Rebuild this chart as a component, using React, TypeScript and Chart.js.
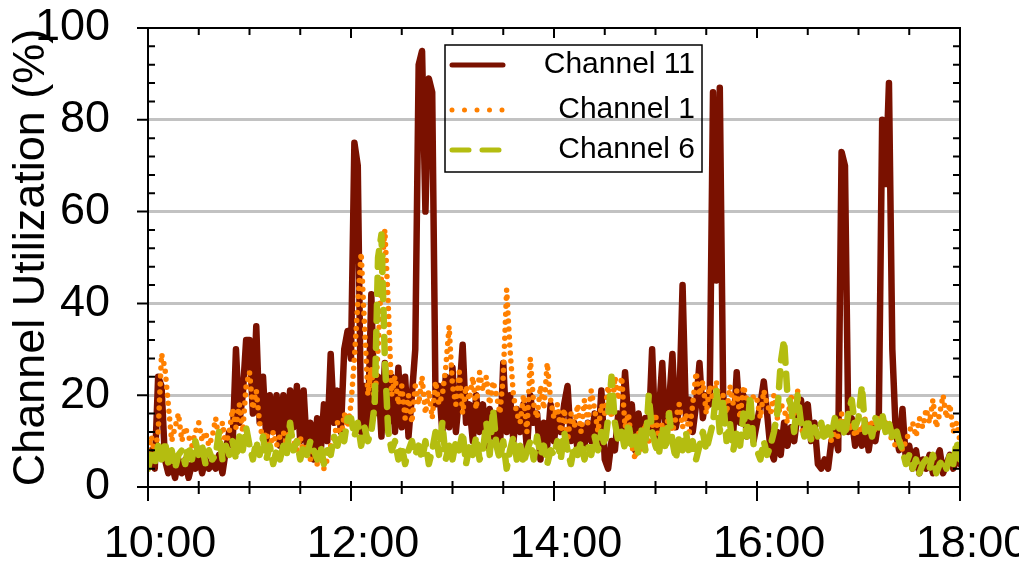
import React, { useEffect, useRef } from "react";
import { Chart, registerables } from "chart.js";

Chart.register(...registerables);

// Time axis: minutes after 10:00, sampled every 2 minutes (10:00 – 18:00)
const START_HOUR = 10;
const STEP_MIN = 2;

const CHANNEL_11 = [
  5, 8, 4, 24, 22, 6, 3, 5, 2, 6,
  3, 6, 2, 5, 4, 7, 3, 6, 4, 5,
  4, 7, 3, 8, 12, 9, 30, 14, 20, 32,
  32, 16, 35, 14, 24, 10, 20, 12, 20, 9,
  20, 11, 21, 13, 22, 10, 21, 8, 14, 6,
  15, 7, 18, 10, 29, 14, 21, 12, 30, 34,
  28, 75, 70, 12, 22, 13, 42, 16, 24, 11,
  27, 14, 24, 12, 26, 13, 24, 11, 20, 30,
  92, 95, 60, 89, 86, 18, 22, 12, 24, 13,
  26, 12, 20, 31, 14, 18, 10, 20, 12, 18,
  9, 17, 11, 16, 8, 27, 12, 20, 10, 17,
  12, 18, 8, 20, 14, 16, 6, 14, 9, 18,
  10, 16, 12, 18, 22, 10, 14, 8, 13, 9,
  14, 10, 16, 9, 21, 6, 4, 10, 8, 16,
  12, 25, 14, 18, 8, 16, 10, 15, 12, 30,
  10, 16, 27, 11, 18, 29, 13, 17, 44, 15,
  19, 12, 18, 27, 15, 20, 18, 86, 45, 87,
  20, 14, 18, 12, 25, 14, 20, 11, 17, 10,
  14, 18, 23, 16, 8, 6, 12, 7, 14, 9,
  13, 10, 16, 19, 12, 18, 10, 14, 5, 4,
  6, 4, 10, 12, 8, 73, 70, 12, 15, 9,
  12, 9, 14, 8, 13, 10, 15, 80, 66, 88,
  30, 12, 8, 17, 6, 9, 4, 8, 3, 6,
  4, 7, 3, 6, 8, 3, 5, 7, 4, 6,
  5,
];

const CHANNEL_1 = [
  8, 11, 7, 12, 29, 26, 18, 10, 13, 16,
  10, 13, 11, 9, 12, 14, 10, 12, 9, 11,
  15, 10, 14, 9, 12, 17, 13, 18, 12, 22,
  25, 17, 21, 14, 10, 12, 8, 12, 9, 11,
  12, 9, 13, 10, 8, 11, 7, 9, 6, 8,
  5, 7, 4, 6, 9, 11, 14, 10, 16, 13,
  18, 28, 40, 51, 35, 20, 26, 18, 30, 46,
  56, 40, 20, 24, 18, 22, 15, 20, 14, 22,
  18, 24, 16, 21, 15, 23, 18, 20, 26, 35,
  22, 18, 25, 16, 22, 19, 24, 17, 25, 21,
  24, 18, 23, 20, 16, 24, 43, 30, 20, 16,
  14, 20, 12, 28, 18, 15, 22, 17, 27, 19,
  15, 18, 12, 17, 10, 16, 13, 18, 12, 19,
  14, 21, 17, 12, 18, 16, 22, 15, 24, 19,
  24, 13, 16, 9, 6, 12, 8, 14, 10, 13,
  16, 10, 14, 11, 17, 12, 15, 18, 13, 16,
  12, 18, 25, 20, 23, 16, 22, 19, 23, 17,
  20, 16, 22, 18, 21, 15, 22, 19, 17, 20,
  19, 15, 21, 18, 16, 20, 15, 18, 17, 14,
  20, 16, 21, 13, 11, 12, 10, 13, 11, 12,
  11, 13, 10, 12, 11, 16, 13, 12, 14, 11,
  13, 12, 15, 13, 14, 12, 15, 13, 14, 12,
  10, 9, 11, 8, 10, 12, 14, 11, 15, 13,
  17, 14, 19, 13, 16, 20, 15, 18, 12, 14,
  10,
];

const CHANNEL_6 = [
  4, 7, 5, 9, 6, 10, 5, 8, 4, 7,
  8, 5, 9, 6, 10, 7, 9, 5, 8, 6,
  7, 12, 6, 9, 7, 10, 6, 11, 8, 13,
  9, 6, 10, 7, 11, 6, 9, 5, 8, 6,
  9, 7, 14, 8, 10, 6, 9, 7, 10, 8,
  6, 9, 5, 8, 7, 11, 9, 12, 10, 15,
  15, 11, 14, 9, 13, 10, 12, 18, 50, 55,
  28, 12, 8, 10, 6, 9, 5, 8, 10, 7,
  9, 6, 10, 5, 8, 12, 7, 14, 6, 9,
  6, 10, 8, 12, 5, 9, 7, 11, 6, 8,
  14, 7, 17, 9, 6, 10, 4, 8, 11, 6,
  9, 5, 8, 10, 6, 11, 7, 9, 5, 8,
  7, 10, 6, 12, 8, 5, 9, 7, 10, 6,
  9, 7, 11, 8, 12, 9, 15, 24, 14, 10,
  12, 8, 14, 9, 11, 7, 13, 8, 20, 12,
  9, 7, 13, 8, 16, 10, 6, 11, 8, 12,
  7, 10, 6, 9, 12, 8, 11, 14, 21, 12,
  19, 10, 14, 8, 12, 9, 16, 11, 20, 9,
  8, 6, 10, 7, 9, 12, 16, 27, 32, 20,
  18, 12, 20, 14, 11, 15, 10, 13, 11, 14,
  10, 13, 11, 15, 12, 14, 11, 16, 19, 13,
  15, 22, 12, 14, 11, 15, 13, 16, 12, 14,
  11, 13, 10, 8, 5, 7, 4, 6, 3, 5,
  6, 4, 7, 3, 5, 6, 4, 7, 5, 10,
  6,
];

const SERIES_LABELS = ["Channel 11", "Channel 1", "Channel 6"];
const Y_TICKS_STEP = 20;
const X_LABEL_STEP_MIN = 120;

const FONT = '"Liberation Sans", Arial, Helvetica, sans-serif';

const toPoints = (vals: number[]) =>
  vals.map((v, i) => ({ x: i * STEP_MIN, y: v }));

const LEGEND_STYLES = [
  { width: 5, dash: [] as number[], cap: "round" },
  { width: 5, dash: [0, 12.5], cap: "round" },
  { width: 5, dash: [17, 13], cap: "round" },
];

const frameAndLegendPlugin = {
  id: "frameAndLegend",
  afterDraw(chart: any) {
    const { ctx, chartArea, scales } = chart;
    const { left, right, top, bottom } = chartArea;
    const xs = scales.x;
    const ys = scales.y;
    ctx.save();
    ctx.strokeStyle = "#000";
    ctx.lineWidth = 2;
    ctx.lineCap = "butt";
    ctx.setLineDash([]);
    ctx.strokeRect(left, top, right - left, bottom - top);
    ctx.beginPath();
    for (let v = 0; v <= 100; v += 4) {
      const py = ys.getPixelForValue(v);
      if (v % 20 === 0) {
        ctx.moveTo(left - 11, py);
        ctx.lineTo(left, py);
      } else {
        ctx.moveTo(left, py);
        ctx.lineTo(left + 7, py);
        ctx.moveTo(right - 7, py);
        ctx.lineTo(right, py);
      }
    }
    for (let t = 0; t <= 480; t += 30) {
      const px = xs.getPixelForValue(t);
      const major = t % 120 === 0;
      ctx.moveTo(px, bottom - 6);
      ctx.lineTo(px, bottom + (major ? 14 : 7));
      ctx.moveTo(px, top);
      ctx.lineTo(px, top + (major ? 10 : 7));
    }
    ctx.stroke();

    // legend box (no fill, grid shows through as in the original)
    const lx = left + 297;
    const ly = top + 17;
    const lw = 257;
    const lh = 127;
    ctx.lineWidth = 1.5;
    ctx.strokeRect(lx, ly, lw, lh);
    const rows = [20, 65, 105];
    SERIES_LABELS.forEach((label, i) => {
      const ds = chart.data.datasets.find((d: any) => d.label === label);
      if (!ds) return;
      const st = LEGEND_STYLES[i];
      const yy = ly + rows[i];
      ctx.beginPath();
      ctx.strokeStyle = ds.borderColor;
      ctx.lineWidth = st.width;
      ctx.lineCap = st.cap;
      ctx.setLineDash(st.dash);
      ctx.moveTo(lx + 7, yy);
      ctx.lineTo(lx + 58, yy);
      ctx.stroke();
      ctx.setLineDash([]);
      ctx.fillStyle = "#000";
      ctx.font = `30px ${FONT}`;
      ctx.textAlign = "right";
      ctx.textBaseline = "middle";
      ctx.fillText(label, lx + lw - 7, yy);
    });
    ctx.restore();
  },
};

export default function App() {
  const canvasRef = useRef<HTMLCanvasElement | null>(null);

  useEffect(() => {
    const canvas = canvasRef.current;
    if (!canvas) return;
    const chart = new Chart(canvas, {
      type: "line",
      data: {
        datasets: [
          {
            label: SERIES_LABELS[0],
            data: toPoints(CHANNEL_11),
            borderColor: "#7a1100",
            borderWidth: 6.5,
            borderCapStyle: "round",
            borderJoinStyle: "round",
            pointRadius: 0,
            tension: 0,
            order: 3,
          },
          {
            label: SERIES_LABELS[1],
            data: toPoints(CHANNEL_1),
            borderColor: "#ff8000",
            borderWidth: 5.5,
            borderDash: [0, 8],
            borderCapStyle: "round",
            borderJoinStyle: "round",
            pointRadius: 0,
            tension: 0,
            order: 2,
          },
          {
            label: SERIES_LABELS[2],
            data: toPoints(CHANNEL_6),
            borderColor: "#b4bd10",
            borderWidth: 6.5,
            borderDash: [16, 11],
            borderCapStyle: "round",
            borderJoinStyle: "round",
            pointRadius: 0,
            tension: 0,
            order: 1,
          },
        ] as any,
      },
      options: {
        animation: false,
        responsive: false,
        maintainAspectRatio: false,
        layout: { padding: { top: 28, right: 59, left: 0, bottom: 0 } },
        plugins: {
          legend: { display: false },
          tooltip: { enabled: false },
        },
        scales: {
          x: {
            type: "linear",
            min: 0,
            max: 480,
            afterFit: (scale: any) => {
              scale.height = 80;
              scale.paddingLeft = 0;
              scale.paddingRight = 0;
            },
            grid: { display: false, drawTicks: false },
            border: { display: false },
            ticks: {
              stepSize: X_LABEL_STEP_MIN,
              color: "#000",
              font: { family: FONT, size: 45 },
              padding: 31,
              labelOffset: 12,
              maxRotation: 0,
              autoSkip: false,
              callback: (v: any) => `${START_HOUR + Number(v) / 60}:00`,
            },
          },
          y: {
            min: 0,
            max: 100,
            afterFit: (scale: any) => {
              scale.width = 148;
              scale.paddingTop = 0;
              scale.paddingBottom = 0;
            },
            grid: {
              drawTicks: false,
              lineWidth: 3,
              color: (c: any) =>
                c.tick && (c.tick.value === 0 || c.tick.value === 100)
                  ? "rgba(0,0,0,0)"
                  : "#c2c2c2",
            },
            border: { display: false },
            ticks: {
              stepSize: Y_TICKS_STEP,
              color: "#000",
              font: { family: FONT, size: 45 },
              padding: 38,
            },
            title: {
              display: true,
              text: "Channel Utilization (%)",
              color: "#000",
              font: { family: FONT, size: 45 },
              padding: { top: 5, bottom: 0 },
            },
          },
        },
      } as any,
      plugins: [frameAndLegendPlugin],
    });
    return () => chart.destroy();
  }, []);

  return (
    <div style={{ position: "absolute", left: 0, top: 0, width: 1019, height: 567, background: "#fff" }}>
      <canvas ref={canvasRef} width={1019} height={567} style={{ display: "block" }} />
    </div>
  );
}
